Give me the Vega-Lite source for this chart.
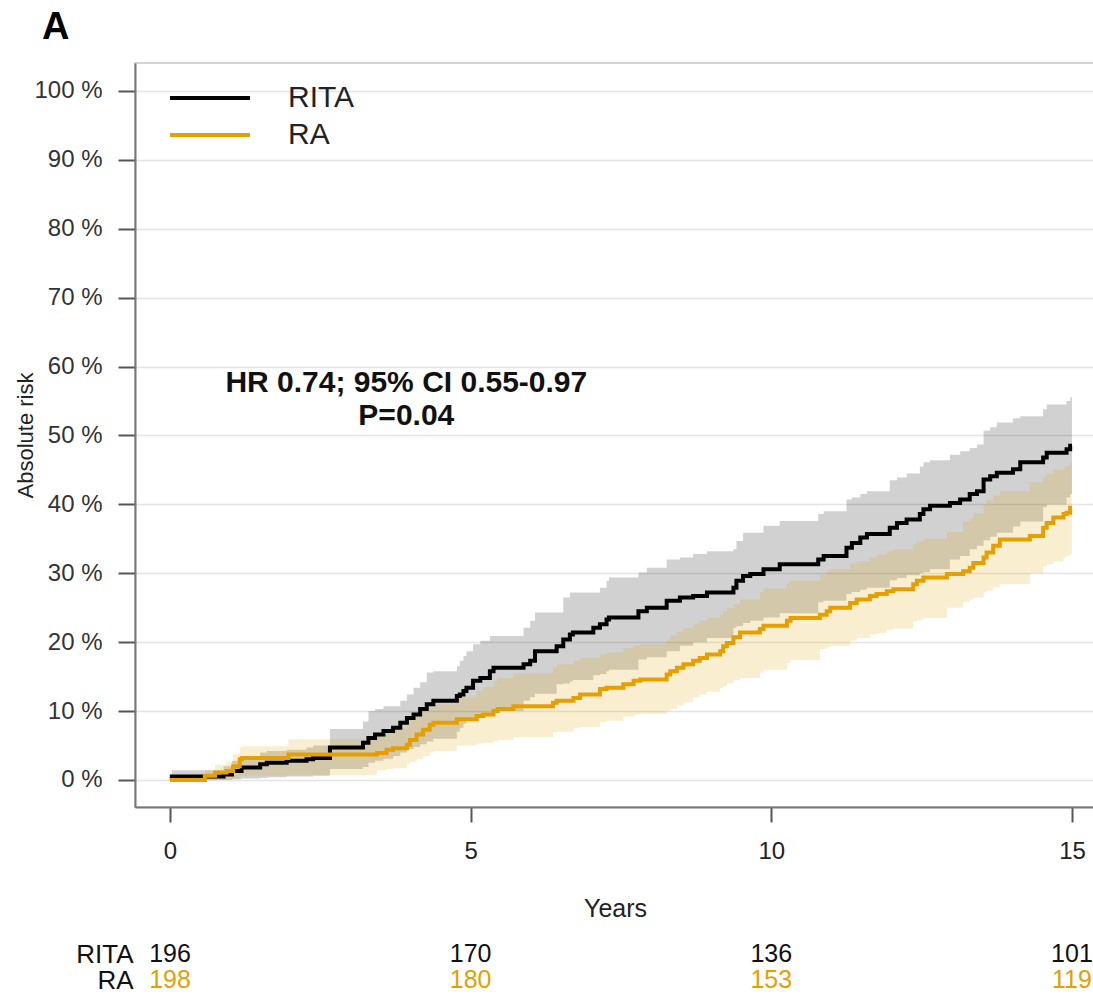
{
  "$schema": "https://vega.github.io/schema/vega-lite/v6.json",
  "padding": {"left": 13, "top": 9, "right": 0, "bottom": 0},
  "title": {"text": "A", "anchor": "start", "frame": "bounds", "fontSize": 38, "font": "Liberation Sans", "fontWeight": "bold", "color": "#000000", "dx": 29, "offset": 15},
  "config": {"view": {"stroke": "#d4d4d4", "strokeWidth": 2}, "font": "Liberation Sans"},
  "spacing": 19,
  "resolve": {"scale": {"color": "independent", "x": "independent", "y": "independent"}},
  "datasets": {
    "km": [
      {"group": "RITA", "t": 0, "est": 0, "lo": 0, "hi": 0},
      {"group": "RITA", "t": 0.03, "est": 0.5, "lo": 0.0, "hi": 1.4},
      {"group": "RITA", "t": 0.89, "est": 0.8, "lo": 0.0, "hi": 2.0},
      {"group": "RITA", "t": 1.03, "est": 1.3, "lo": 0.1, "hi": 2.8},
      {"group": "RITA", "t": 1.19, "est": 1.8, "lo": 0.2, "hi": 3.5},
      {"group": "RITA", "t": 1.5, "est": 2.3, "lo": 0.3, "hi": 4.0},
      {"group": "RITA", "t": 1.61, "est": 2.5, "lo": 0.4, "hi": 4.2},
      {"group": "RITA", "t": 1.94, "est": 2.8, "lo": 0.5, "hi": 4.4},
      {"group": "RITA", "t": 2.27, "est": 3.0, "lo": 0.5, "hi": 4.7},
      {"group": "RITA", "t": 2.38, "est": 3.2, "lo": 0.6, "hi": 5.0},
      {"group": "RITA", "t": 2.66, "est": 4.7, "lo": 1.6, "hi": 7.4},
      {"group": "RITA", "t": 3.21, "est": 5.4, "lo": 1.9, "hi": 8.5},
      {"group": "RITA", "t": 3.3, "est": 6.1, "lo": 2.5, "hi": 10.0},
      {"group": "RITA", "t": 3.41, "est": 6.6, "lo": 2.8, "hi": 10.3},
      {"group": "RITA", "t": 3.55, "est": 7.1, "lo": 3.1, "hi": 10.7},
      {"group": "RITA", "t": 3.71, "est": 7.6, "lo": 3.5, "hi": 10.7},
      {"group": "RITA", "t": 3.83, "est": 8.3, "lo": 4.0, "hi": 11.5},
      {"group": "RITA", "t": 3.94, "est": 9.0, "lo": 4.5, "hi": 12.4},
      {"group": "RITA", "t": 4.05, "est": 9.5, "lo": 4.8, "hi": 13.4},
      {"group": "RITA", "t": 4.16, "est": 10.3, "lo": 5.2, "hi": 14.2},
      {"group": "RITA", "t": 4.27, "est": 11.0, "lo": 5.6, "hi": 15.6},
      {"group": "RITA", "t": 4.38, "est": 11.5, "lo": 6.0, "hi": 15.8},
      {"group": "RITA", "t": 4.77, "est": 12.2, "lo": 7.0, "hi": 16.5},
      {"group": "RITA", "t": 4.82, "est": 12.4, "lo": 7.6, "hi": 17.3},
      {"group": "RITA", "t": 4.88, "est": 12.9, "lo": 8.2, "hi": 18.0},
      {"group": "RITA", "t": 4.93, "est": 13.4, "lo": 8.6, "hi": 18.7},
      {"group": "RITA", "t": 5.04, "est": 14.4, "lo": 9.0, "hi": 19.7},
      {"group": "RITA", "t": 5.16, "est": 14.8, "lo": 9.3, "hi": 20.2},
      {"group": "RITA", "t": 5.32, "est": 15.8, "lo": 9.6, "hi": 20.9},
      {"group": "RITA", "t": 5.38, "est": 16.3, "lo": 10.0, "hi": 20.9},
      {"group": "RITA", "t": 5.88, "est": 16.8, "lo": 11.5, "hi": 22.1},
      {"group": "RITA", "t": 5.99, "est": 17.3, "lo": 12.0, "hi": 23.1},
      {"group": "RITA", "t": 6.07, "est": 18.7, "lo": 12.5, "hi": 24.3},
      {"group": "RITA", "t": 6.43, "est": 19.4, "lo": 13.9, "hi": 24.3},
      {"group": "RITA", "t": 6.54, "est": 20.4, "lo": 14.0, "hi": 26.5},
      {"group": "RITA", "t": 6.65, "est": 21.1, "lo": 14.3, "hi": 27.2},
      {"group": "RITA", "t": 6.7, "est": 21.4, "lo": 14.5, "hi": 27.2},
      {"group": "RITA", "t": 7.04, "est": 22.1, "lo": 15.2, "hi": 27.2},
      {"group": "RITA", "t": 7.15, "est": 22.6, "lo": 15.4, "hi": 27.9},
      {"group": "RITA", "t": 7.26, "est": 23.3, "lo": 15.8, "hi": 28.9},
      {"group": "RITA", "t": 7.3, "est": 23.6, "lo": 16.0, "hi": 29.4},
      {"group": "RITA", "t": 7.79, "est": 24.5, "lo": 17.5, "hi": 30.1},
      {"group": "RITA", "t": 7.93, "est": 25.0, "lo": 17.8, "hi": 30.8},
      {"group": "RITA", "t": 8.26, "est": 26.0, "lo": 18.7, "hi": 32.0},
      {"group": "RITA", "t": 8.48, "est": 26.5, "lo": 19.5, "hi": 32.3},
      {"group": "RITA", "t": 8.7, "est": 26.7, "lo": 20.0, "hi": 32.8},
      {"group": "RITA", "t": 8.93, "est": 27.2, "lo": 20.6, "hi": 33.2},
      {"group": "RITA", "t": 9.37, "est": 27.9, "lo": 22.1, "hi": 33.5},
      {"group": "RITA", "t": 9.42, "est": 28.9, "lo": 22.3, "hi": 34.7},
      {"group": "RITA", "t": 9.53, "est": 29.6, "lo": 22.8, "hi": 35.9},
      {"group": "RITA", "t": 9.65, "est": 29.9, "lo": 23.1, "hi": 35.9},
      {"group": "RITA", "t": 9.87, "est": 30.6, "lo": 23.6, "hi": 36.9},
      {"group": "RITA", "t": 10.14, "est": 31.3, "lo": 24.2, "hi": 37.6},
      {"group": "RITA", "t": 10.78, "est": 32.0, "lo": 25.8, "hi": 38.6},
      {"group": "RITA", "t": 10.87, "est": 32.5, "lo": 26.0, "hi": 39.0},
      {"group": "RITA", "t": 11.25, "est": 33.7, "lo": 27.0, "hi": 40.7},
      {"group": "RITA", "t": 11.34, "est": 34.4, "lo": 27.3, "hi": 41.0},
      {"group": "RITA", "t": 11.48, "est": 35.2, "lo": 27.6, "hi": 41.5},
      {"group": "RITA", "t": 11.59, "est": 35.7, "lo": 27.9, "hi": 41.9},
      {"group": "RITA", "t": 11.97, "est": 36.6, "lo": 29.0, "hi": 43.5},
      {"group": "RITA", "t": 12.09, "est": 37.3, "lo": 29.3, "hi": 43.9},
      {"group": "RITA", "t": 12.25, "est": 37.8, "lo": 29.7, "hi": 44.5},
      {"group": "RITA", "t": 12.47, "est": 38.6, "lo": 30.0, "hi": 45.5},
      {"group": "RITA", "t": 12.53, "est": 39.3, "lo": 30.2, "hi": 46.1},
      {"group": "RITA", "t": 12.64, "est": 39.8, "lo": 30.6, "hi": 46.4},
      {"group": "RITA", "t": 12.97, "est": 40.2, "lo": 32.0, "hi": 47.2},
      {"group": "RITA", "t": 13.14, "est": 40.7, "lo": 32.5, "hi": 47.7},
      {"group": "RITA", "t": 13.3, "est": 41.5, "lo": 33.5, "hi": 48.2},
      {"group": "RITA", "t": 13.42, "est": 41.9, "lo": 34.0, "hi": 48.7},
      {"group": "RITA", "t": 13.53, "est": 43.6, "lo": 34.8, "hi": 50.7},
      {"group": "RITA", "t": 13.64, "est": 44.1, "lo": 35.3, "hi": 51.2},
      {"group": "RITA", "t": 13.75, "est": 44.6, "lo": 35.9, "hi": 51.9},
      {"group": "RITA", "t": 14.02, "est": 45.1, "lo": 36.8, "hi": 52.5},
      {"group": "RITA", "t": 14.14, "est": 46.1, "lo": 37.5, "hi": 52.8},
      {"group": "RITA", "t": 14.52, "est": 46.8, "lo": 39.6, "hi": 53.8},
      {"group": "RITA", "t": 14.58, "est": 47.5, "lo": 40.0, "hi": 54.5},
      {"group": "RITA", "t": 14.91, "est": 48.0, "lo": 41.0, "hi": 55.0},
      {"group": "RITA", "t": 14.97, "est": 48.5, "lo": 41.5, "hi": 55.5},
      {"group": "RITA", "t": 15.0, "est": 48.5, "lo": 41.5, "hi": 55.5},
      {"group": "RA", "t": 0, "est": 0, "lo": 0, "hi": 0.3},
      {"group": "RA", "t": 0.58, "est": 0.6, "lo": 0.0, "hi": 1.5},
      {"group": "RA", "t": 0.75, "est": 1.1, "lo": 0.0, "hi": 2.2},
      {"group": "RA", "t": 0.94, "est": 1.3, "lo": 0.1, "hi": 2.6},
      {"group": "RA", "t": 1.05, "est": 2.0, "lo": 0.2, "hi": 3.8},
      {"group": "RA", "t": 1.16, "est": 3.0, "lo": 0.5, "hi": 4.7},
      {"group": "RA", "t": 1.2, "est": 3.2, "lo": 0.6, "hi": 4.9},
      {"group": "RA", "t": 1.97, "est": 3.7, "lo": 0.7, "hi": 5.9},
      {"group": "RA", "t": 3.44, "est": 3.9, "lo": 1.4, "hi": 6.6},
      {"group": "RA", "t": 3.6, "est": 4.4, "lo": 1.6, "hi": 7.1},
      {"group": "RA", "t": 3.71, "est": 4.6, "lo": 1.7, "hi": 7.5},
      {"group": "RA", "t": 3.94, "est": 5.1, "lo": 2.2, "hi": 8.0},
      {"group": "RA", "t": 3.99, "est": 5.8, "lo": 2.6, "hi": 9.0},
      {"group": "RA", "t": 4.1, "est": 6.6, "lo": 3.0, "hi": 9.3},
      {"group": "RA", "t": 4.21, "est": 7.3, "lo": 3.5, "hi": 10.0},
      {"group": "RA", "t": 4.32, "est": 8.0, "lo": 4.0, "hi": 10.5},
      {"group": "RA", "t": 4.38, "est": 8.3, "lo": 4.2, "hi": 11.0},
      {"group": "RA", "t": 4.77, "est": 8.8, "lo": 5.0, "hi": 12.0},
      {"group": "RA", "t": 5.1, "est": 9.3, "lo": 5.3, "hi": 13.0},
      {"group": "RA", "t": 5.21, "est": 9.5, "lo": 5.4, "hi": 13.5},
      {"group": "RA", "t": 5.38, "est": 10.0, "lo": 5.6, "hi": 14.4},
      {"group": "RA", "t": 5.45, "est": 10.3, "lo": 5.8, "hi": 14.8},
      {"group": "RA", "t": 5.71, "est": 10.7, "lo": 6.2, "hi": 15.5},
      {"group": "RA", "t": 6.37, "est": 11.2, "lo": 6.9, "hi": 16.3},
      {"group": "RA", "t": 6.43, "est": 11.5, "lo": 7.0, "hi": 16.8},
      {"group": "RA", "t": 6.71, "est": 11.9, "lo": 7.5, "hi": 17.3},
      {"group": "RA", "t": 6.82, "est": 12.4, "lo": 7.7, "hi": 17.7},
      {"group": "RA", "t": 7.15, "est": 13.2, "lo": 8.4, "hi": 18.2},
      {"group": "RA", "t": 7.26, "est": 13.4, "lo": 8.6, "hi": 18.5},
      {"group": "RA", "t": 7.54, "est": 13.9, "lo": 9.2, "hi": 19.2},
      {"group": "RA", "t": 7.71, "est": 14.4, "lo": 9.5, "hi": 19.5},
      {"group": "RA", "t": 7.82, "est": 14.6, "lo": 9.6, "hi": 19.7},
      {"group": "RA", "t": 8.26, "est": 15.3, "lo": 10.0, "hi": 20.4},
      {"group": "RA", "t": 8.32, "est": 15.8, "lo": 10.3, "hi": 21.0},
      {"group": "RA", "t": 8.43, "est": 16.3, "lo": 10.8, "hi": 21.5},
      {"group": "RA", "t": 8.54, "est": 16.8, "lo": 11.3, "hi": 22.1},
      {"group": "RA", "t": 8.7, "est": 17.3, "lo": 12.0, "hi": 22.6},
      {"group": "RA", "t": 8.81, "est": 17.7, "lo": 12.4, "hi": 23.1},
      {"group": "RA", "t": 8.93, "est": 18.2, "lo": 12.8, "hi": 23.5},
      {"group": "RA", "t": 9.15, "est": 18.7, "lo": 13.3, "hi": 24.0},
      {"group": "RA", "t": 9.2, "est": 19.4, "lo": 13.6, "hi": 24.5},
      {"group": "RA", "t": 9.26, "est": 19.9, "lo": 14.0, "hi": 25.0},
      {"group": "RA", "t": 9.37, "est": 20.7, "lo": 14.5, "hi": 25.5},
      {"group": "RA", "t": 9.48, "est": 21.4, "lo": 14.8, "hi": 26.2},
      {"group": "RA", "t": 9.81, "est": 21.9, "lo": 15.6, "hi": 27.3},
      {"group": "RA", "t": 9.87, "est": 22.4, "lo": 16.0, "hi": 27.8},
      {"group": "RA", "t": 10.26, "est": 23.1, "lo": 17.0, "hi": 28.5},
      {"group": "RA", "t": 10.32, "est": 23.5, "lo": 17.4, "hi": 28.9},
      {"group": "RA", "t": 10.81, "est": 24.0, "lo": 19.0, "hi": 29.8},
      {"group": "RA", "t": 10.92, "est": 24.5, "lo": 19.3, "hi": 30.3},
      {"group": "RA", "t": 10.98, "est": 25.0, "lo": 19.5, "hi": 30.6},
      {"group": "RA", "t": 11.31, "est": 25.7, "lo": 20.2, "hi": 31.4},
      {"group": "RA", "t": 11.42, "est": 26.2, "lo": 20.6, "hi": 31.8},
      {"group": "RA", "t": 11.64, "est": 26.7, "lo": 21.1, "hi": 32.3},
      {"group": "RA", "t": 11.75, "est": 27.0, "lo": 21.3, "hi": 32.7},
      {"group": "RA", "t": 11.92, "est": 27.4, "lo": 21.8, "hi": 33.2},
      {"group": "RA", "t": 12.03, "est": 27.7, "lo": 22.0, "hi": 33.5},
      {"group": "RA", "t": 12.36, "est": 28.4, "lo": 23.0, "hi": 34.2},
      {"group": "RA", "t": 12.42, "est": 28.9, "lo": 23.2, "hi": 34.6},
      {"group": "RA", "t": 12.53, "est": 29.4, "lo": 23.5, "hi": 35.0},
      {"group": "RA", "t": 12.92, "est": 29.9, "lo": 25.0, "hi": 36.0},
      {"group": "RA", "t": 13.19, "est": 30.3, "lo": 25.8, "hi": 37.5},
      {"group": "RA", "t": 13.3, "est": 30.8, "lo": 26.2, "hi": 38.0},
      {"group": "RA", "t": 13.36, "est": 31.5, "lo": 26.5, "hi": 38.8},
      {"group": "RA", "t": 13.53, "est": 32.3, "lo": 27.2, "hi": 40.0},
      {"group": "RA", "t": 13.58, "est": 33.0, "lo": 27.5, "hi": 40.6},
      {"group": "RA", "t": 13.69, "est": 34.0, "lo": 28.0, "hi": 41.3},
      {"group": "RA", "t": 13.8, "est": 34.9, "lo": 28.4, "hi": 41.9},
      {"group": "RA", "t": 14.3, "est": 35.4, "lo": 30.0, "hi": 43.2},
      {"group": "RA", "t": 14.52, "est": 36.6, "lo": 31.0, "hi": 44.0},
      {"group": "RA", "t": 14.58, "est": 37.3, "lo": 31.3, "hi": 44.5},
      {"group": "RA", "t": 14.69, "est": 38.1, "lo": 31.7, "hi": 45.0},
      {"group": "RA", "t": 14.86, "est": 38.6, "lo": 32.3, "hi": 45.4},
      {"group": "RA", "t": 14.91, "est": 38.8, "lo": 32.5, "hi": 45.6},
      {"group": "RA", "t": 14.97, "est": 39.5, "lo": 32.8, "hi": 46.0},
      {"group": "RA", "t": 15.0, "est": 39.5, "lo": 32.8, "hi": 46.0}
    ],
    "risk": [
      {"group": "RITA", "t": 0, "n": 196},
      {"group": "RITA", "t": 5, "n": 170},
      {"group": "RITA", "t": 10, "n": 136},
      {"group": "RITA", "t": 15, "n": 101},
      {"group": "RA", "t": 0, "n": 198},
      {"group": "RA", "t": 5, "n": 180},
      {"group": "RA", "t": 10, "n": 153},
      {"group": "RA", "t": 15, "n": 119}
    ],
    "note": [
      {"label": "HR 0.74; 95% CI 0.55-0.97\nP=0.04"}
    ]
  },
  "vconcat": [
    {
      "width": 960,
      "height": 744,
      "data": {"name": "km"},
      "layer": [
        {
          "mark": {"type": "area", "interpolate": "step-after", "fillOpacity": 0.18},
          "encoding": {
            "x": {"field": "t", "type": "quantitative", "scale": {"domain": [-0.582, 15.383], "nice": false, "zero": false}},
            "y": {"field": "lo", "type": "quantitative", "scale": {"domain": [-3.92, 104.06], "nice": false, "zero": false}},
            "y2": {"field": "hi"},
            "color": {"field": "group", "type": "nominal"}
          }
        },
        {
          "mark": {"type": "line", "interpolate": "step-after", "strokeWidth": 4},
          "encoding": {
            "x": {"field": "t", "type": "quantitative",
                  "axis": {"orient": "bottom", "values": [0, 5, 10, 15], "format": "d", "title": "Years", "grid": false,
                           "domainColor": "#777777", "domainWidth": 2, "tickColor": "#555555", "tickWidth": 2, "tickSize": 15,
                           "labelPadding": 17, "labelFontSize": 24, "labelColor": "#222222",
                           "titleFontSize": 25, "titleFontWeight": "normal", "titlePadding": 33, "titleColor": "#222222"}},
            "y": {"field": "est", "type": "quantitative",
                  "axis": {"values": [0, 10, 20, 30, 40, 50, 60, 70, 80, 90, 100], "labelExpr": "datum.value + ' %'", "title": "Absolute risk",
                           "grid": true, "gridColor": "#e4e4e4", "gridWidth": 1.5, "domainColor": "#777777", "domainWidth": 2,
                           "tickColor": "#555555", "tickWidth": 2, "tickSize": 17, "labelPadding": 16, "labelFontSize": 24, "labelColor": "#333333",
                           "titleFontSize": 22, "titleFontWeight": "normal", "titleColor": "#222222", "titleX": -98, "titleY": 372,
                           "titleAngle": -90, "titleAlign": "center", "titleBaseline": "bottom"}},
            "color": {"field": "group", "type": "nominal", "scale": {"domain": ["RITA", "RA"], "range": ["#000000", "#E69F00"]},
                      "legend": {"orient": "none", "legendX": 60, "legendY": 20, "title": null, "symbolType": "M-5,0H5", "symbolSize": 256,
                                 "symbolStrokeWidth": 4, "symbolOpacity": 1, "labelFontSize": 30, "labelOffset": 63, "rowPadding": 7, "labelColor": "#222222", "padding": 0}}
          }
        },
        {
          "data": {"name": "note"},
          "mark": {"type": "text", "fontSize": 30, "fontWeight": "bold", "font": "Liberation Sans", "lineBreak": "\n", "lineHeight": 33,
                   "align": "center", "baseline": "middle", "color": "#111111"},
          "encoding": {
            "x": {"datum": 3.93, "type": "quantitative"},
            "y": {"datum": 57.6, "type": "quantitative"},
            "text": {"field": "label"}
          }
        }
      ]
    },
    {
      "width": 960,
      "height": 52,
      "view": {"stroke": null},
      "data": {"name": "risk"},
      "mark": {"type": "text", "fontSize": 25, "font": "Liberation Sans"},
      "encoding": {
        "x": {"field": "t", "type": "quantitative", "scale": {"domain": [-0.582, 15.383], "nice": false, "zero": false}, "axis": null},
        "y": {"field": "group", "type": "nominal", "scale": {"domain": ["RITA", "RA"]},
              "axis": {"title": null, "domain": false, "ticks": false, "labelFontSize": 26, "labelColor": "#111111", "labelPadding": 2}},
        "text": {"field": "n", "type": "quantitative"},
        "color": {"condition": {"test": "datum.group === 'RA'", "value": "#E69F00"}, "value": "#111111"}
      }
    }
  ]
}
